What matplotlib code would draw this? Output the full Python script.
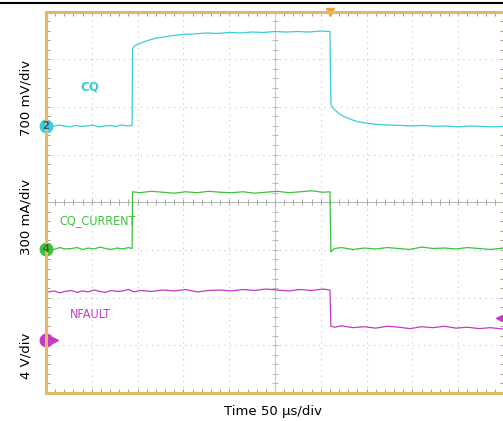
import numpy as np
import matplotlib
matplotlib.use('Agg')
import matplotlib.pyplot as plt
from matplotlib.lines import Line2D

# scope traces, x in divisions (50 us/div), y in divisions from screen centre
cq_t = [0.05, 0.15, 0.28, 0.40, 0.52, 0.65, 0.78, 0.90, 1.02, 1.15, 1.28, 1.40, 1.52, 1.65, 1.78, 1.88,
        1.89, 1.93, 2.00, 2.10, 2.25, 2.40, 2.60, 2.80, 3.00, 3.25, 3.50, 3.75, 4.00, 4.25, 4.50,
        4.75, 5.00, 5.25, 5.50, 5.75, 6.00, 6.20,
        6.22, 6.25, 6.30, 6.40, 6.50, 6.65, 6.80, 7.00, 7.25, 7.50, 7.75, 8.00, 8.25, 8.50,
        8.75, 9.00, 9.25, 9.50, 9.75, 10.0]
cq_v = [1.61, 1.59, 1.62, 1.60, 1.58, 1.61, 1.59, 1.60, 1.62, 1.58, 1.60, 1.61, 1.59, 1.62, 1.60, 1.61,
        3.22, 3.28, 3.31, 3.35, 3.40, 3.44, 3.47, 3.50, 3.52, 3.53, 3.55, 3.54, 3.56, 3.55, 3.57,
        3.56, 3.58, 3.57, 3.58, 3.57, 3.59, 3.58,
        2.05, 2.00, 1.94, 1.86, 1.80, 1.74, 1.69, 1.66, 1.63, 1.62, 1.61, 1.60, 1.61, 1.59,
        1.60, 1.58, 1.60, 1.59, 1.58, 1.59]

cur_t = [0.05, 0.18, 0.30, 0.42, 0.55, 0.68, 0.80, 0.92, 1.05, 1.18, 1.30, 1.42, 1.55, 1.68, 1.80, 1.88,
         1.89, 2.05, 2.30, 2.55, 2.80, 3.05, 3.30, 3.55, 3.80, 4.05, 4.30, 4.55, 4.80, 5.05,
         5.30, 5.55, 5.80, 6.05, 6.20,
         6.22, 6.30, 6.45, 6.70, 6.95, 7.20, 7.45, 7.70, 7.95, 8.20, 8.45, 8.70, 8.95, 9.20,
         9.45, 9.70, 10.0]
cur_v = [-0.96, -0.99, -0.95, -0.98, -0.97, -0.95, -0.99, -0.96, -0.98, -0.94, -0.97, -0.99, -0.96, -0.98, -0.95, -0.97,
         0.22, 0.20, 0.23, 0.21, 0.19, 0.22, 0.20, 0.23, 0.21, 0.20, 0.22, 0.19, 0.21, 0.23,
         0.20, 0.22, 0.24, 0.21, 0.22,
         -1.04, -0.97, -0.95, -0.99, -0.96, -0.98, -0.95, -0.97, -0.99, -0.94, -0.97, -0.96, -0.98, -0.95,
         -0.97, -0.99, -0.96]

nf_t = [0.05, 0.18, 0.30, 0.42, 0.55, 0.68, 0.80, 0.92, 1.05, 1.18, 1.30, 1.42, 1.55, 1.68, 1.80, 1.92,
        2.05, 2.30, 2.55, 2.80, 3.05, 3.30, 3.55, 3.80, 4.05, 4.30, 4.55, 4.80, 5.05, 5.30,
        5.55, 5.80, 6.05, 6.20,
        6.22, 6.30, 6.45, 6.70, 6.95, 7.20, 7.45, 7.70, 7.95, 8.20, 8.45, 8.70, 8.95, 9.20,
        9.45, 9.70, 10.0]
nf_v = [-1.88, -1.86, -1.90, -1.87, -1.85, -1.89, -1.86, -1.88, -1.84, -1.87, -1.89, -1.85, -1.87, -1.86, -1.83, -1.88,
        -1.85, -1.87, -1.84, -1.86, -1.83, -1.88, -1.85, -1.84, -1.86, -1.83, -1.85, -1.82, -1.84, -1.86,
        -1.83, -1.85, -1.82, -1.84,
        -2.60, -2.62, -2.59, -2.63, -2.61, -2.64, -2.60, -2.62, -2.65, -2.61, -2.63, -2.60, -2.64, -2.62,
        -2.65, -2.63, -2.66]

cq_col = '#3ccdd4'
cur_col = '#3ec23e'
nf_col = '#c23cc2'
border = '#e3b868'

fig = plt.figure(figsize=(5.03, 4.21), dpi=100)
ax = fig.add_axes([46 / 503, 28 / 421, 458 / 503, 381.5 / 421])
ax.set_xlim(0, 10)
ax.set_ylim(-4, 4)

# graticule
for gx in range(1, 10):
    if gx != 5:
        ax.axvline(gx, color='#c8c8c8', lw=0.8, ls=(0, (1, 4)))
for gy in range(-3, 4):
    if gy != 0:
        ax.axhline(gy, color='#c8c8c8', lw=0.8, ls=(0, (1, 4)))
ax.axhline(0, color='#b8b8b8', lw=0.8)
ax.axvline(5, color='#c8c8c8', lw=0.8)
xt = np.arange(0, 10.01, 0.2)
yt = np.arange(-4, 4.01, 0.2)
ax.plot(xt, np.zeros_like(xt), ls='none', marker='|', ms=4, color='#a8a8a8', mew=0.7)
ax.plot(np.full_like(yt, 5), yt, ls='none', marker='_', ms=4, color='#b8b8b8', mew=0.7)

ax.set_xticks([])
ax.set_yticks([])
ax.set_xticks(xt, minor=True)
ax.set_yticks(yt, minor=True)
ax.tick_params(which='minor', direction='in', length=3, width=0.7, color='#a89a88',
               top=True, right=True, labelbottom=False, labelleft=False)
for s in ax.spines.values():
    s.set_color(border)
    s.set_linewidth(2.2)

ax.plot(cq_t, cq_v, color=cq_col, lw=0.9)
ax.plot(cur_t, cur_v, color=cur_col, lw=0.9)
ax.plot(nf_t, nf_v, color=nf_col, lw=0.9)

# channel markers
ax.plot(0, 1.60, 'o', ms=9, color=cq_col, clip_on=False)
ax.text(0, 1.60, '2', color='#1a5a8a', fontsize=7, fontweight='bold',
        ha='center', va='center', clip_on=False)
ax.plot(0, -0.97, 'o', ms=9, color=cur_col, clip_on=False)
ax.text(0, -0.97, '4', color='#207020', fontsize=7, fontweight='bold',
        ha='center', va='center', clip_on=False)
ax.plot(0, -2.88, 'o', ms=9, color=nf_col, clip_on=False)
ax.plot(0.2, -2.88, '>', ms=4, color=nf_col, clip_on=False)
ax.plot(9.88, -2.42, '<', ms=5, color=nf_col, clip_on=False)
ax.plot(6.2, 4.0, 'v', ms=6, color='#f0a030', clip_on=False)

ax.text(0.75, 2.42, 'CQ', color=cq_col, fontsize=9.5, fontweight='bold',
        fontstretch='condensed', va='center')
ax.text(0.30, -0.38, 'CQ_CURRENT', color=cur_col, fontsize=9,
        fontstretch='condensed', va='center')
ax.text(0.52, -2.35, 'NFAULT', color=nf_col, fontsize=9,
        fontstretch='condensed', va='center')

fig.text(26 / 503, 1 - 98 / 421, '700 mV/div', rotation=90, fontsize=9.5, ha='center', va='center')
fig.text(26 / 503, 1 - 217 / 421, '300 mA/div', rotation=90, fontsize=9.5, ha='center', va='center')
fig.text(26 / 503, 1 - 356 / 421, '4 V/div', rotation=90, fontsize=9.5, ha='center', va='center')
fig.text(273 / 503, 1 - 412 / 421, 'Time 50 \u00b5s/div', fontsize=9.5, ha='center', va='center')

fig.add_artist(Line2D([0, 1], [1 - 2.5 / 421, 1 - 2.5 / 421], color='black', lw=1.5))

fig.savefig('out.png', dpi=100)
